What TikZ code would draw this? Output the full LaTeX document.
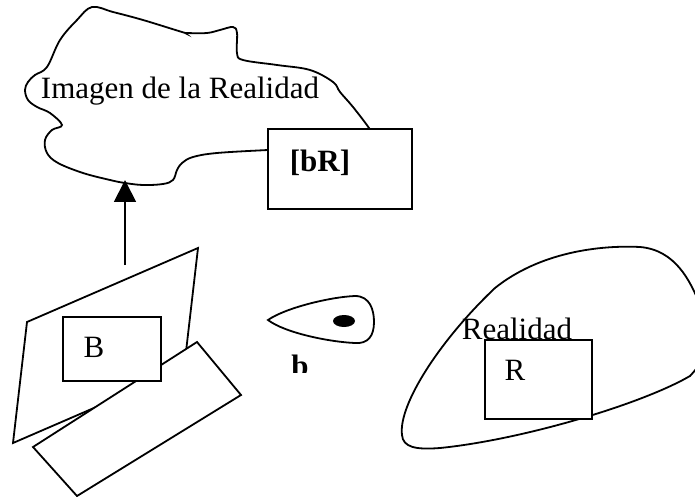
\documentclass[tikz,border=0pt]{standalone}
\usepackage{fontspec}
\setmainfont{Liberation Serif}
\usetikzlibrary{arrows.meta}
\tikzstyle{box} = [rectangle, draw=black, fill=white, line width=0.9pt, inner sep=0pt]
\tikzstyle{lbl} = [inner sep=0pt, anchor=base, font=\fontsize{15.5}{18}\selectfont]
\tikzstyle{outline} = [draw=black, line width=0.9pt]
\tikzstyle{arrow} = [line width=0.9pt, -{Triangle[length=11pt, width=11pt]}]

\begin{document}
\begin{tikzpicture}[x=0.5pt, y=-0.5pt]
\useasboundingbox (0,0) rectangle (695,497);

% imagen de la realidad
\draw [outline] plot [smooth, tension=0.6] coordinates {(372,135) (369,128) (353,107) (340,92) (333,82) (310,70) (277,65) (243,60) (237,53) (237,33) (233,27) (220,30) (207,33) (187,33) (182,32) (143,20) (113,12) (92,7) (77,20) (60,40) (47,67) (35,75) (28,82) (25,90) (28,100) (37,107) (50,113) (62,125) (52,130) (45,140) (47,153) (58,163) (83,173) (110,180) (125,183) (143,185) (163,184) (173,180) (177,170) (182,163) (193,157) (217,153) (268,150) (275,150)};
\node (imagen) [lbl] at (180,99) {Imagen de la Realidad};
\node (bR) [box, minimum width=72pt, minimum height=40pt] at (340,169) {};
\node (bRtext) [lbl, font=\fontsize{15.5}{18}\selectfont\bfseries] at (320,172) {[bR]};

% sujeto
\draw [outline] (27,322) -- (198,248) -- (184,369) -- (13,443) -- cycle;
\draw [outline, fill=white] (197,342) -- (241,395) -- (77,496) -- (33,447) -- cycle;
\node (B) [box, minimum width=49pt, minimum height=32pt] at (112,349) {};
\node (Btext) [lbl] at (94,357) {B};
\coordinate (src) at (125,265);
\coordinate (cloudbase) at (125,180);
\draw [arrow] (src) -- (cloudbase);

% b
\draw [outline] (268,320) .. controls (285,308) and (330,297) .. (355,296) .. controls (370,296) and (374,310) .. (374,322) .. controls (374,336) and (368,344) .. (355,343) .. controls (330,342) and (285,333) .. (268,320) -- cycle;
\fill (344,321) ellipse [x radius=5.5pt, y radius=3pt];
\begin{scope}
\clip (280,340) rectangle (320,372);
\node (btext) [lbl, font=\fontsize{15.5}{18}\selectfont\bfseries] at (300,376) {b};
\end{scope}

% realidad
\begin{scope}
\clip (0,0) rectangle (695,497);
\draw [outline] (402,435) .. controls (398,405) and (440,340) .. (495,288) .. controls (540,252) and (600,245) .. (640,247) .. controls (675,250) and (690,280) .. (700,305) .. controls (712,335) and (710,355) .. (690,376) .. controls (640,405) and (520,440) .. (440,448) .. controls (415,450) and (403,447) .. (402,435) -- cycle;
\end{scope}
\node (R) [box, minimum width=53.5pt, minimum height=39.5pt] at (538.5,379.5) {};
\node (Rtext) [lbl] at (515,380) {R};
\node (realidad) [lbl] at (517,339) {Realidad};

\end{tikzpicture}
\end{document}
